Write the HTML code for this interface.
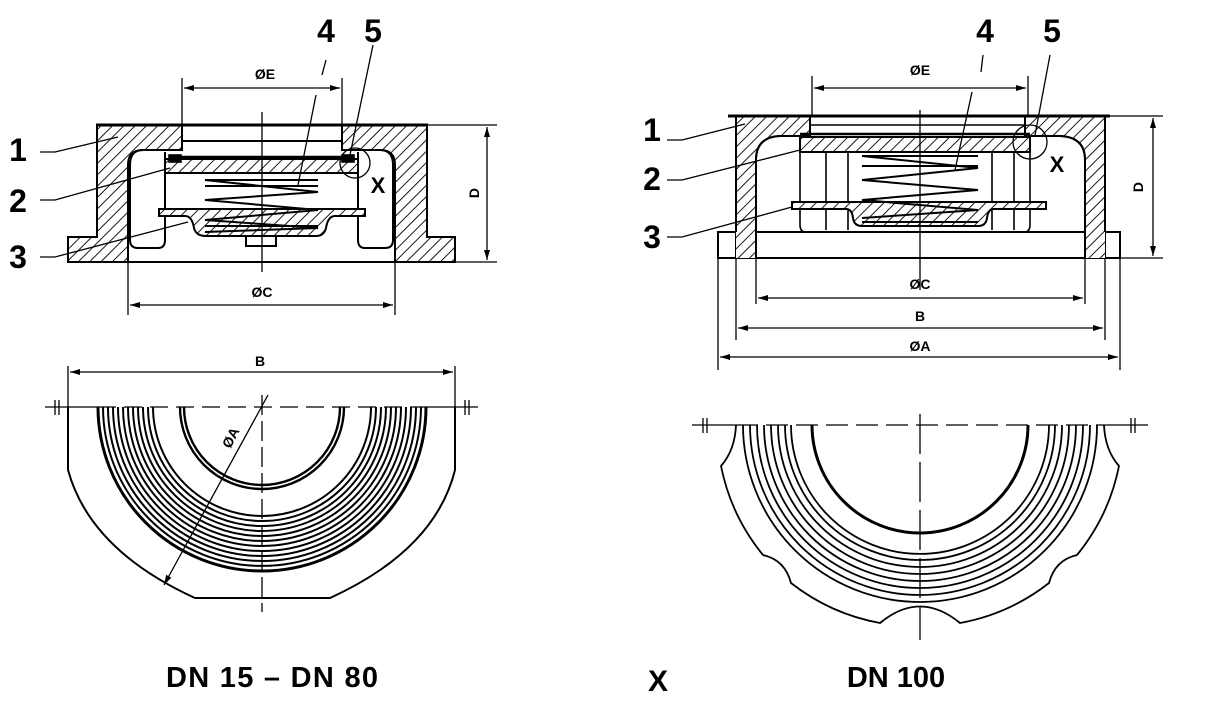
<!DOCTYPE html>
<html><head><meta charset="utf-8"><style>
html,body{margin:0;padding:0;background:#fff;}
svg{display:block;}
text{font-family:"Liberation Sans",Arial,sans-serif;font-weight:bold;fill:#000;}
</style></head><body>
<svg width="1229" height="711" viewBox="0 0 1229 711" xmlns="http://www.w3.org/2000/svg">
<defs>
<pattern id="h" patternUnits="userSpaceOnUse" width="8" height="8" patternTransform="rotate(45)">
<rect width="8" height="8" fill="#fff"/><line x1="0" y1="0" x2="0" y2="8" stroke="#000" stroke-width="1.8"/>
</pattern>
<marker id="a" markerWidth="10" markerHeight="6" refX="10" refY="3" orient="auto-start-reverse" markerUnits="userSpaceOnUse"><path d="M0,0 L10,3 L0,6 Z" fill="#000"/></marker>
</defs>
<g fill="none" stroke="#000" stroke-width="1.6">

<!-- LEFT SECTION -->
<path fill="url(#h)" fill-rule="evenodd" stroke-width="2" d="M97,125 H427 V237 H455 V262 H68 V237 H97 Z M182,125 H342 V150 H380 Q395,150 395,165 V262 H128 V165 Q128,150 143,150 H182 Z"/>
<path d="M143,150 Q130,150 130,165 V240 Q130,248 138,248 H158 Q165,248 165,240 V152" stroke-width="2"/>
<path d="M380,150 Q393,150 393,165 V240 Q393,248 385,248 H365 Q358,248 358,240 V152" stroke-width="2"/>
<line x1="182" y1="141" x2="342" y2="141" stroke-width="2"/>
<line x1="96" y1="125" x2="428" y2="125" stroke-width="3"/>
<line x1="180" y1="157" x2="345" y2="157" stroke-width="2.5"/>
<rect x="165" y="159" width="193" height="14" fill="url(#h)" stroke-width="2"/>
<rect x="169" y="155" width="12" height="7" fill="#000"/>
<rect x="342" y="155" width="12" height="7" fill="#000"/>
<path fill="url(#h)" stroke-width="2" d="M159,209 H365 V216 H335 Q328,216 326,228 Q324,236 316,236 H206 Q196,236 194,228 Q192,216 185,216 H159 Z"/>
<rect x="246" y="236" width="30" height="10" stroke-width="2"/>
<path stroke-width="2" d="M205,180 H318 M205,180 L318,192 L205,200 L318,210 L205,220 L318,228 L205,232 M205,186 H318 M205,226 H318"/>
<line x1="262" y1="112" x2="262" y2="272" stroke-width="1.3"/>
<line x1="182" y1="78" x2="182" y2="125" stroke-width="1.3"/>
<line x1="342" y1="78" x2="342" y2="125" stroke-width="1.3"/>
<line x1="184" y1="88" x2="340" y2="88" marker-start="url(#a)" marker-end="url(#a)" stroke-width="1.3"/>
<line x1="128" y1="262" x2="128" y2="315" stroke-width="1.3"/>
<line x1="395" y1="262" x2="395" y2="315" stroke-width="1.3"/>
<line x1="130" y1="305" x2="393" y2="305" marker-start="url(#a)" marker-end="url(#a)" stroke-width="1.3"/>
<line x1="428" y1="125" x2="497" y2="125" stroke-width="1.3"/>
<line x1="456" y1="262" x2="497" y2="262" stroke-width="1.3"/>
<line x1="487" y1="127" x2="487" y2="260" marker-start="url(#a)" marker-end="url(#a)" stroke-width="1.3"/>
<circle cx="355" cy="163" r="15" stroke-width="1.3"/>
<path d="M40,152 L55,152 L118,137" stroke-width="1.3"/>
<path d="M40,200 L55,200 L170,168" stroke-width="1.3"/>
<path d="M40,257 L55,257 L188,222" stroke-width="1.3"/>
<path d="M326,60 L322,75 M316,95 L298,185" stroke-width="1.3"/>
<path d="M373,45 L350,155" stroke-width="1.3"/>

<!-- RIGHT SECTION -->
<rect x="718" y="232" width="402" height="26" stroke-width="2"/>
<path fill="url(#h)" fill-rule="evenodd" stroke-width="2" d="M736,116 H1105 V258 H1085 V160 Q1085,137 1060,136 H1025 V116 H810 V136 H780 Q756,137 756,160 V258 H736 Z"/>
<rect x="736" y="232" width="20" height="26" fill="url(#h)" stroke="none"/>
<rect x="1085" y="232" width="20" height="26" fill="url(#h)" stroke="none"/>
<path d="M756,258 V160 Q756,137 780,136 H810 M1085,258 V160 Q1085,137 1060,136 H1025" stroke-width="2"/>
<line x1="728" y1="116" x2="1110" y2="116" stroke-width="3"/>
<line x1="810" y1="125" x2="1025" y2="125"/>
<line x1="800" y1="134" x2="1030" y2="134" stroke-width="2.5"/>
<rect x="800" y="137" width="230" height="15" fill="url(#h)" stroke-width="2"/>
<path d="M800,152 V225 Q800,232 806,232 H760 M1030,152 V225 Q1030,232 1024,232 H1080"/>
<path d="M826,152 V230 M848,152 V230 M992,152 V230 M1014,152 V230"/>
<path fill="url(#h)" stroke-width="2" d="M792,202 H1046 V209 H994 Q988,209 987,218 Q986,226 978,226 H862 Q854,226 853,218 Q852,209 846,209 H792 Z"/>
<path stroke-width="2" d="M862,156 H978 M862,156 L978,168 L862,180 L978,190 L862,200 L978,210 L862,218 M862,166 H978 M862,222 H978"/>
<line x1="920" y1="110" x2="920" y2="290" stroke-width="1.3"/>
<line x1="812" y1="76" x2="812" y2="116" stroke-width="1.3"/>
<line x1="1028" y1="76" x2="1028" y2="116" stroke-width="1.3"/>
<line x1="814" y1="88" x2="1026" y2="88" marker-start="url(#a)" marker-end="url(#a)" stroke-width="1.3"/>
<line x1="756" y1="258" x2="756" y2="304" stroke-width="1.3"/>
<line x1="1085" y1="258" x2="1085" y2="304" stroke-width="1.3"/>
<line x1="758" y1="298" x2="1083" y2="298" marker-start="url(#a)" marker-end="url(#a)" stroke-width="1.3"/>
<line x1="736" y1="258" x2="736" y2="340" stroke-width="1.3"/>
<line x1="1105" y1="258" x2="1105" y2="340" stroke-width="1.3"/>
<line x1="738" y1="328" x2="1103" y2="328" marker-start="url(#a)" marker-end="url(#a)" stroke-width="1.3"/>
<line x1="718" y1="258" x2="718" y2="370" stroke-width="1.3"/>
<line x1="1120" y1="258" x2="1120" y2="370" stroke-width="1.3"/>
<line x1="720" y1="357" x2="1118" y2="357" marker-start="url(#a)" marker-end="url(#a)" stroke-width="1.3"/>
<line x1="1106" y1="116" x2="1163" y2="116" stroke-width="1.3"/>
<line x1="1121" y1="258" x2="1163" y2="258" stroke-width="1.3"/>
<line x1="1153" y1="118" x2="1153" y2="256" marker-start="url(#a)" marker-end="url(#a)" stroke-width="1.3"/>
<circle cx="1030" cy="142" r="17" stroke-width="1.3"/>
<path d="M667,140 L682,140 L745,124" stroke-width="1.3"/>
<path d="M667,180 L682,180 L800,150" stroke-width="1.3"/>
<path d="M667,237 L682,237 L792,207" stroke-width="1.3"/>
<path d="M983,55 L981,72 M972,92 L955,170" stroke-width="1.3"/>
<path d="M1050,55 L1035,135" stroke-width="1.3"/>

<!-- BOTTOM LEFT VIEW -->
<line x1="68" y1="366" x2="68" y2="410" stroke-width="1.3"/>
<line x1="455" y1="366" x2="455" y2="410" stroke-width="1.3"/>
<line x1="70" y1="372" x2="453" y2="372" marker-start="url(#a)" marker-end="url(#a)" stroke-width="1.3"/>
<line x1="45" y1="407" x2="98" y2="407" stroke-width="1.3"/>
<line x1="426" y1="407" x2="478" y2="407" stroke-width="1.3"/>
<line x1="98" y1="407" x2="426" y2="407" stroke-dasharray="18,8" stroke-width="1.3"/>
<path d="M55,400 V415 M59,400 V415 M465,400 V415 M469,400 V415" stroke-width="1.3"/>
<path d="M68,407 V470 Q90,550 195,598 H330 Q435,550 455,470 V407" stroke-width="2"/>
<path stroke-width="3" d="M98,407 A164,164 0 0 0 426,407"/>
<path d="M103,407 A159,159 0 0 0 421,407 M108,407 A154,154 0 0 0 416,407 M113,407 A149,149 0 0 0 411,407 M118,407 A144,144 0 0 0 406,407 M123,407 A139,139 0 0 0 401,407 M128,407 A134,134 0 0 0 396,407 M133,407 A129,129 0 0 0 391,407 M138,407 A124,124 0 0 0 386,407 M143,407 A119,119 0 0 0 381,407 M148,407 A114,114 0 0 0 376,407 M153,407 A109,109 0 0 0 371,407" stroke-width="2"/>
<path stroke-width="2.4" d="M180,407 A82,82 0 0 0 344,407 M184,407 A78,78 0 0 0 340,407"/>
<line x1="262" y1="395" x2="262" y2="612" stroke-dasharray="20,6" stroke-width="1.3"/>
<line x1="268" y1="395" x2="164" y2="585" marker-end="url(#a)" stroke-width="1.3"/>

<!-- BOTTOM RIGHT VIEW -->
<line x1="692" y1="425" x2="736" y2="425" stroke-width="1.3"/>
<line x1="1104" y1="425" x2="1148" y2="425" stroke-width="1.3"/>
<line x1="736" y1="425" x2="1104" y2="425" stroke-dasharray="22,8" stroke-width="1.3"/>
<path d="M703,418 V433 M707,418 V433 M1131,418 V433 M1135,418 V433" stroke-width="1.3"/>
<path stroke-width="1.8" d="M736,425 Q735,450 721,466 A204,204 0 0 0 763,555 Q785,560 791,583 A204,204 0 0 0 880,623 Q920,590 960,623 A204,204 0 0 0 1049,583 Q1055,560 1077,555 A204,204 0 0 0 1119,466 Q1105,450 1104,425"/>
<path stroke-width="1.8" d="M743,425 A177,177 0 0 0 1097,425 M750,425 A170,170 0 0 0 1090,425 M757,425 A163,163 0 0 0 1083,425 M764,425 A156,156 0 0 0 1076,425 M771,425 A149,149 0 0 0 1069,425 M778,425 A142,142 0 0 0 1062,425 M785,425 A135,135 0 0 0 1055,425 M791,425 A129,129 0 0 0 1049,425"/>
<path stroke-width="3" d="M812,425 A108,108 0 0 0 1028,425"/>
<line x1="920" y1="414" x2="920" y2="640" stroke-dasharray="40,8" stroke-width="1.3"/>
</g>

<g>
<text x="265" y="79" font-size="14" text-anchor="middle">ØE</text>
<text x="262" y="297" font-size="14" text-anchor="middle">ØC</text>
<text x="479" y="193" font-size="14" text-anchor="middle" transform="rotate(-90 479 193)">D</text>
<text x="18" y="161" font-size="32" text-anchor="middle">1</text>
<text x="18" y="212" font-size="32" text-anchor="middle">2</text>
<text x="18" y="268" font-size="32" text-anchor="middle">3</text>
<text x="326" y="42" font-size="32" text-anchor="middle">4</text>
<text x="373" y="42" font-size="32" text-anchor="middle">5</text>
<text x="378" y="193" font-size="22" text-anchor="middle">X</text>
<text x="920" y="75" font-size="14" text-anchor="middle">ØE</text>
<text x="920" y="289" font-size="14" text-anchor="middle">ØC</text>
<text x="920" y="321" font-size="14" text-anchor="middle">B</text>
<text x="920" y="351" font-size="14" text-anchor="middle">ØA</text>
<text x="1143" y="187" font-size="14" text-anchor="middle" transform="rotate(-90 1143 187)">D</text>
<text x="652" y="141" font-size="32" text-anchor="middle">1</text>
<text x="652" y="190" font-size="32" text-anchor="middle">2</text>
<text x="652" y="248" font-size="32" text-anchor="middle">3</text>
<text x="985" y="42" font-size="32" text-anchor="middle">4</text>
<text x="1052" y="42" font-size="32" text-anchor="middle">5</text>
<text x="1057" y="172" font-size="22" text-anchor="middle">X</text>
<text x="260" y="366" font-size="14" text-anchor="middle">B</text>
<text x="235" y="440" font-size="14" text-anchor="middle" transform="rotate(-62 235 440)">ØA</text>
<text x="272" y="687" font-size="29" text-anchor="middle" textLength="212">DN 15 – DN 80</text>
<text x="658" y="691" font-size="30" text-anchor="middle" font-weight="normal">X</text>
<text x="896" y="687" font-size="29" text-anchor="middle">DN 100</text>
</g>
</svg>
</body></html>
